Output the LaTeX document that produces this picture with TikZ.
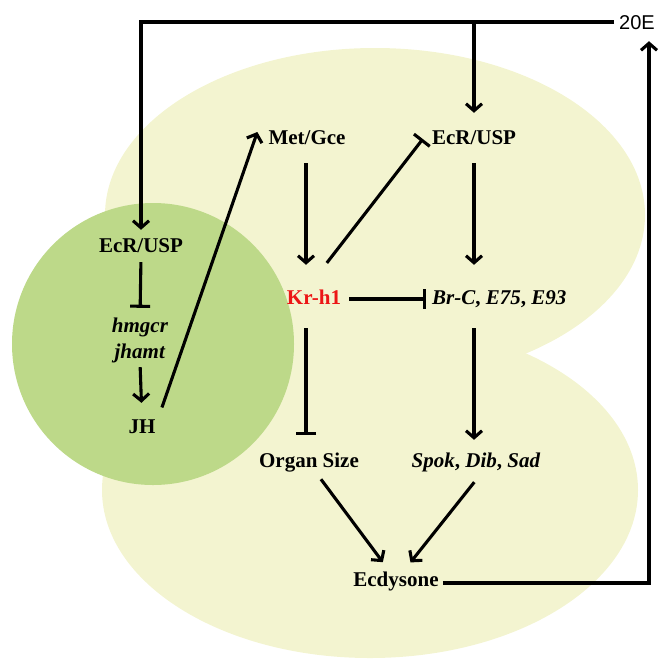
\documentclass[tikz,border=0pt]{standalone}
\usepackage{fontspec}
\setmainfont{Liberation Serif}
\newfontfamily\arialfont{Liberation Sans}
\usetikzlibrary{arrows.meta}

\definecolor{blobyellow}{RGB}{243,244,208}
\definecolor{glandgreen}{RGB}{189,217,137}
\definecolor{krred}{RGB}{236,22,22}

\begin{document}
\begin{tikzpicture}[x=1pt,y=-1pt,
    lbl/.style={font=\bfseries\fontsize{21}{24}\selectfont, inner sep=0pt, text height=14pt, text depth=4pt},
    act/.style={line width=3.1pt, -{Straight Barb[length=7pt,width=16pt]}},
    inh/.style={line width=3.1pt, -{Bar[width=20pt]}}]

\useasboundingbox (0,0) rectangle (666,659);

\fill[blobyellow] (375,215) circle [x radius=270pt, y radius=167pt];
\fill[blobyellow] (370,490) circle [x radius=268pt, y radius=168pt];
\fill[glandgreen] (153,344) circle [radius=141pt];

\node[font=\arialfont\fontsize{20}{22}\selectfont, inner sep=0pt, text height=14pt, text depth=0pt] (e20) at (637,22) {20E};

\node[lbl] (ecrL) at (141,247) {EcR/USP};
\node[lbl] (hmg)  at (140,327) {\textit{hmgcr}};
\node[lbl] (jha)  at (140,353) {\textit{jhamt}};
\node[lbl] (jh)   at (142,428) {JH};

\node[lbl] (met)  at (307,139) {Met/Gce};
\node[lbl] (ecrR) at (474,139) {EcR/USP};
\node[lbl, text=krred] (kr) at (314,299) {Kr-h1};
\node[lbl, anchor=west] (brc) at (432,299) {\textit{Br-C}, \textit{E75}, \textit{E93}};
\node[lbl] (org)  at (309,462) {Organ Size};
\node[lbl] (spok) at (476,462) {\textit{Spok}, \textit{Dib}, \textit{Sad}};
\node[lbl] (ecd)  at (396,581) {Ecdysone};

\coordinate (split) at (ecrR |- e20);

% 20E feed
\draw[act, shorten <=5pt, shorten >=8pt] (e20.west) -| (ecrL.north);
\draw[act, shorten >=17pt] (split) -- (ecrR.north);
\draw[act, shorten <=4pt, shorten >=12pt] ([yshift=-2pt]ecd.east) -| ([xshift=12pt]e20.south);

% gland
\draw[inh, shorten <=6pt, shorten >=10pt] (ecrL.south) -- (hmg.north);
\draw[act, shorten <=5pt, shorten >=16pt] (jha.south) -- (jh.north);
\draw[act, shorten <=12pt] ([xshift=16pt]jh.north) -- ([xshift=-11pt,yshift=7pt]met.west);

% tissue
\draw[act, shorten <=15pt, shorten >=25pt] ([xshift=-1pt]met.south) -- ([xshift=-1pt]met.south |- kr.north);
\draw[inh, shorten <=34pt] ([xshift=-8pt]kr.north) -- ([xshift=-9pt]ecrR.west);
\draw[act, shorten <=15pt, shorten >=25pt] (ecrR.south) -- (ecrR.south |- brc.north);
\draw[inh, shorten <=8pt, shorten >=6pt] (kr.east) -- (brc.west);
\draw[inh, shorten <=20pt, shorten >=18pt] ([xshift=-1pt]met.south |- kr.south) -- ([xshift=-1pt]met.south |- org.north);
\draw[act, shorten <=20pt, shorten >=13pt] (ecrR.south |- brc.south) -- (ecrR.south |- spok.north);
\draw[act, shorten <=10pt, shorten >=12pt] ([xshift=6pt]org.south) -- ([xshift=-6pt]ecd.north);
\draw[act, shorten <=14pt, shorten >=12pt] ([xshift=7pt]spok.south) -- ([xshift=7pt]ecd.north);

\end{tikzpicture}
\end{document}
